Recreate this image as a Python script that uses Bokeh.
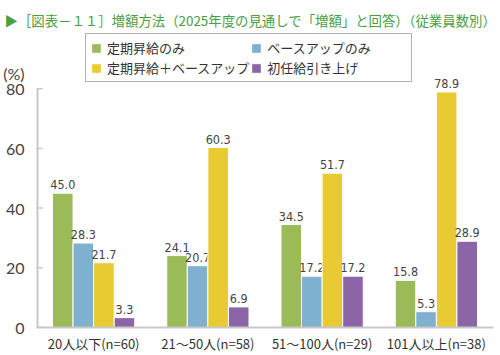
from bokeh.plotting import figure
from bokeh.models import ColumnDataSource, Legend, LegendItem, FixedTicker
from bokeh.core.properties import value
from bokeh.embed import file_html
from bokeh.resources import INLINE

# ---- data ----
groups = ["20人以下(n=60)", "21～50人(n=58)", "51～100人(n=29)", "101人以上(n=38)"]
series_names = ["定期昇給のみ", "ベースアップのみ", "定期昇給＋ベースアップ", "初任給引き上げ"]
teiki_only = [45.0, 24.1, 34.5, 15.8]
base_only = [28.3, 20.7, 17.2, 5.3]
teiki_base = [21.7, 60.3, 51.7, 78.9]
shoninkyu = [3.3, 6.9, 17.2, 28.9]
y_ticks = [0, 20, 40, 60, 80]
unit_pos = 85
unit_label = "(%)"
title_text = "▶［図表－１１］増額方法（2025年度の見通しで「増額」と回答）（従業員数別）"

series_values = [teiki_only, base_only, teiki_base, shoninkyu]
colors = ["#9bbb59", "#7eb0cf", "#e8ca33", "#8c65a6"]
offsets = [-0.27, -0.09, 0.09, 0.27]
bar_w = 0.18
x_start, x_end = 0, 4
y_end = 98.5

W, H = 500, 355
p = figure(width=W, height=H, output_backend="svg", toolbar_location=None,
           x_range=(x_start, x_end), y_range=(0, y_end),
           min_border_left=33, min_border_right=7, min_border_top=33, min_border_bottom=27)
p.outline_line_color = None
p.xgrid.grid_line_color = None
p.ygrid.grid_line_color = None
p.background_fill_color = "white"
p.border_fill_color = "white"

# title
p.title.text = title_text
p.title.text_font = "Noto Sans CJK JP"
p.title.text_font_size = "13.4px"
p.title.text_font_style = "normal"
p.title.text_color = "#48a040"
p.title.align = "left"
p.title.offset = -32
p.title.standoff = 8

renderers = []
for vals, col, off in zip(series_values, colors, offsets):
    xs = [i + 0.5 + off for i in range(len(groups))]
    src = ColumnDataSource(dict(x=xs, top=vals, lab=[f"{v:.1f}" for v in vals]))
    r = p.vbar(x="x", top="top", width=bar_w, bottom=0, source=src,
               fill_color=col, line_color="white", line_width=1)
    renderers.append(r)
    p.text(x="x", y="top", text="lab", source=src, y_offset=-4,
           text_align="center", text_baseline="bottom",
           text_font=value("'Liberation Sans Narrow', 'DejaVu Sans Condensed', sans-serif"),
           text_font_size="12.5px", text_color="#444444")

# y axis: tick labels from the axis, axis line & inner ticks drawn from the tick list
p.yaxis.ticker = FixedTicker(ticks=y_ticks + [unit_pos])
p.yaxis.major_label_overrides = {unit_pos: unit_label}
p.yaxis.axis_line_color = None
p.yaxis.major_tick_line_color = None
p.yaxis.minor_tick_line_color = None
p.yaxis.major_label_text_font = "Lato"
p.yaxis.major_label_text_font_size = "16px"
p.yaxis.major_label_text_color = "#444444"
p.yaxis.major_label_standoff = 6
p.segment(x0=[x_start], y0=[y_ticks[0]], x1=[x_start], y1=[y_ticks[-1]],
          line_color="#c8c8c8", line_width=4)
p.ray(x=[x_start] * len(y_ticks), y=y_ticks, length=6, length_units="screen", angle=0,
      line_color="#c8c8c8", line_width=1.5)

# x axis
p.xaxis.ticker = FixedTicker(ticks=[i + 0.5 for i in range(len(groups))])
p.xaxis.major_label_overrides = {i + 0.5: g for i, g in enumerate(groups)}
p.xaxis.axis_line_color = "#c8c8c8"
p.xaxis.axis_line_width = 2
p.xaxis.major_tick_line_color = None
p.xaxis.minor_tick_line_color = None
p.xaxis.major_label_text_font = "Noto Sans CJK JP"
p.xaxis.major_label_text_font_size = "13px"
p.xaxis.major_label_text_color = "#333333"
p.xaxis.major_label_standoff = 0

# legend (column-major: col 1 = green, yellow; col 2 = blue, purple)
order = [0, 2, 1, 3]
items = [LegendItem(label=series_names[i], renderers=[renderers[i]]) for i in order]
legend = Legend(items=items, location=(49, 245), orientation="vertical", nrows=2,
                label_text_font="Noto Sans CJK JP", label_text_font_size="13px",
                label_text_color="#333333", glyph_width=12, glyph_height=12,
                label_height=14, label_width=140,
                label_standoff=5, spacing=1, padding=4, margin=0,
                border_line_color="#666666", border_line_width=1,
                background_fill_color="white", background_fill_alpha=1.0)
p.add_layout(legend, "center")

open("out.html", "w").write(file_html(p, INLINE))
